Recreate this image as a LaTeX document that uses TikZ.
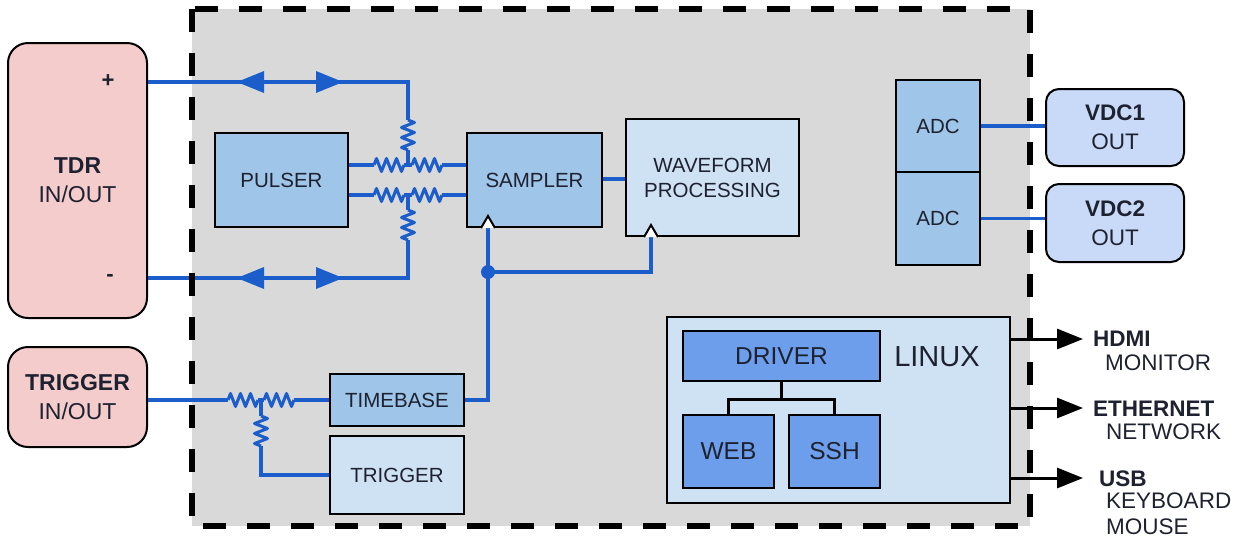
\documentclass[tikz,border=0pt]{standalone}
\usepackage{fontspec}
\setmainfont{Liberation Sans}
\usetikzlibrary{arrows.meta,decorations.pathmorphing,calc}
\definecolor{bggray}{HTML}{D9D9D9}
\definecolor{pinkio}{HTML}{F4CCCC}
\definecolor{medblue}{HTML}{9FC5E8}
\definecolor{liteblue}{HTML}{CFE2F3}
\definecolor{vdcblue}{HTML}{C9DAF8}
\definecolor{darkblue}{HTML}{6D9EEB}
\definecolor{wireblue}{HTML}{1C5DCC}
\definecolor{txt}{HTML}{1E2230}
\begin{document}
\begin{tikzpicture}[x=1pt,y=-1pt,
 blk/.style={draw=black, line width=2pt, rectangle, inner sep=0pt, text=txt, align=center, font=\fontsize{20.5}{25}\selectfont},
 mbox/.style={blk, fill=medblue},
 lbox/.style={blk, fill=liteblue},
 dbox/.style={blk, fill=darkblue, font=\fontsize{24.5}{29}\selectfont},
 io/.style={blk, fill=pinkio, rounded corners=20pt, font=\fontsize{23}{29}\selectfont},
 vdc/.style={blk, fill=vdcblue, rounded corners=13pt, font=\fontsize{22.5}{29}\selectfont},
 wire/.style={draw=wireblue, line width=3.5pt},
 res/.style={draw=wireblue, line width=3pt, line join=round, decorate, decoration={zigzag, amplitude=6.5pt, segment length=10pt}},
 outarr/.style={draw=black, line width=3pt, -{Triangle[length=26pt,width=20pt]}},
 tree/.style={draw=black, line width=3pt},
 lab/.style={inner sep=0pt, anchor=west, text=txt, font=\fontsize{22.5}{27}\selectfont},
 clk/.style={draw=black, line width=2pt, fill=white, line join=miter},
]
\useasboundingbox (0,0) rectangle (1239,539);
% background of the instrument
\fill[bggray] (192,9) rectangle (1030,526);

% ---------- nodes ----------
\node[io, minimum width=139pt, minimum height=275pt] (tdr) at (77.5,180.5) {\textbf{TDR}\\IN/OUT};
\node[io, minimum width=139pt, minimum height=100pt] (trigio) at (77.5,397) {\textbf{TRIGGER}\\IN/OUT};
\node[inner sep=0pt, text=txt, font=\bfseries\fontsize{22}{24}\selectfont] (plus) at (108,81) {+};
\node[inner sep=0pt, text=txt, font=\bfseries\fontsize{22}{24}\selectfont] (minus) at (110,278) {-};

\coordinate (tc) at (408,82);
\coordinate (bc) at (408,278);
\coordinate (j1) at (408,165);
\coordinate (j2) at (408,195);
\coordinate (j3) at (261,400);

% ---------- TDR wires (under boxes) ----------
\draw[wire] (tdr.east |- tc) -- (tc) -- (408,120);
\draw[res] (408,120) -- (408,150);
\draw[wire] (408,150) -- (j1);
\draw[wire] (215,165) -- (374,165);
\draw[res] (374,165) -- (404,165);
\draw[wire] (404,165) -- (412,165);
\draw[res] (412,165) -- (442,165);
\draw[wire] (442,165) -- (470,165);

\draw[wire] (215,195) -- (374,195);
\draw[res] (374,195) -- (404,195);
\draw[wire] (404,195) -- (412,195);
\draw[res] (412,195) -- (442,195);
\draw[wire] (442,195) -- (470,195);
\draw[wire] (j2) -- (408,210);
\draw[res] (408,210) -- (408,240);
\draw[wire] (408,240) -- (bc) -- (tdr.east |- bc);

% bidirectional arrowheads
\fill[wireblue] (237,82) -- (264,71) -- (264,93) -- cycle;
\fill[wireblue] (343,82) -- (316,71) -- (316,93) -- cycle;
\fill[wireblue] (237,278) -- (264,267) -- (264,289) -- cycle;
\fill[wireblue] (343,278) -- (316,267) -- (316,289) -- cycle;

% ---------- trigger wires ----------
\draw[wire] (trigio.east |- j3) -- (228,400);
\draw[res] (228,400) -- (258,400);
\draw[wire] (258,400) -- (264,400);
\draw[res] (264,400) -- (294,400);
\draw[wire] (294,400) -- (334,400);
\draw[wire] (j3) -- (261,416);
\draw[res] (261,416) -- (261,446);
\draw[wire] (261,446) -- (261,475) -- (334,475);

% ---------- boxes ----------
\node[mbox, minimum width=133pt, minimum height=94pt] (pulser) at (281.5,180) {PULSER};
\node[mbox, minimum width=135pt, minimum height=94pt] (sampler) at (534.5,180) {SAMPLER};
\node[lbox, minimum width=173pt, minimum height=117pt] (wave) at (712.5,177.5) {WAVEFORM\\PROCESSING};
\node[mbox, minimum width=134pt, minimum height=52pt] (timebase) at (397,400) {TIMEBASE};
\node[lbox, minimum width=134pt, minimum height=78pt] (trigger) at (397,475) {TRIGGER};
\node[mbox, minimum width=84pt, minimum height=92pt] (adc1) at (938,126) {ADC};
\node[mbox, minimum width=84pt, minimum height=93pt] (adc2) at (938,218.5) {ADC};
\node[vdc, minimum width=138pt, minimum height=77pt] (vdc1) at (1115,127.5) {\textbf{VDC1}\\OUT};
\node[vdc, minimum width=138pt, minimum height=78pt] (vdc2) at (1115,223) {\textbf{VDC2}\\OUT};
\node[lbox, minimum width=343pt, minimum height=186pt] (linux) at (838.5,410) {};
\node[inner sep=0pt, text=txt, font=\fontsize{29}{32}\selectfont] (linuxlab) at (937,357) {LINUX};
\node[dbox, minimum width=197pt, minimum height=50pt] (driver) at (781.5,356) {DRIVER};
\node[dbox, minimum width=91pt, minimum height=73pt] (web) at (728.5,451.5) {WEB};
\node[dbox, minimum width=91pt, minimum height=73pt] (ssh) at (834.5,451.5) {SSH};

% ---------- wires between boxes ----------
\draw[wire] (sampler.east |- 0,179) -- (wave.west |- 0,179);
\coordinate (ck1) at ($(sampler.south west)+(22,0)$);
\coordinate (ck2) at ($(wave.south west)+(26,0)$);
\coordinate (dot) at ($(ck1)+(0,44)$);
\draw[wire] (timebase.east) -| (ck1);
\draw[wire] (dot) -| (ck2);
\fill[wireblue] (dot) circle (7pt);
\draw[clk] ($(ck1)+(-7,0)$) -- ($(ck1)+(0,-12)$) -- ($(ck1)+(7,0)$);
\draw[clk] ($(ck2)+(-7,0)$) -- ($(ck2)+(0,-12)$) -- ($(ck2)+(7,0)$);

\draw[wire] (adc1.east) -- (vdc1.west |- adc1.east);
\draw[wire] (adc2.east) -- (vdc2.west |- adc2.east);

% tree in linux
\coordinate (tj) at ($(driver.south)+(0,17)$);
\draw[tree] (driver.south) -- (tj);
\draw[tree] (web.north) |- (ssh.north |- tj) -- (ssh.north);

% outputs
\coordinate (o1) at (1083,339);
\coordinate (o2) at (1083,408);
\coordinate (o3) at (1083,478);
\draw[outarr] (linux.east |- o1) -- (o1);
\draw[outarr] (linux.east |- o2) -- (o2);
\draw[outarr] (linux.east |- o3) -- (o3);

\node[lab, font=\bfseries\fontsize{22.5}{27}\selectfont] (hdmi) at (1093,339) {HDMI};
\node[lab] (monitor) at (1105,362.5) {MONITOR};
\node[lab, font=\bfseries\fontsize{22.5}{27}\selectfont] (eth) at (1093,409) {ETHERNET};
\node[lab] (network) at (1106,432) {NETWORK};
\node[lab, font=\bfseries\fontsize{22.5}{27}\selectfont] (usb) at (1099,479) {USB};
\node[lab] (keyboard) at (1106,501) {KEYBOARD};
\node[lab] (mouse) at (1106,527) {MOUSE};

% dashed enclosure on top
\draw[line width=6pt, dash pattern=on 23pt off 21pt] (192,9) rectangle (1030,526);
\end{tikzpicture}
\end{document}
